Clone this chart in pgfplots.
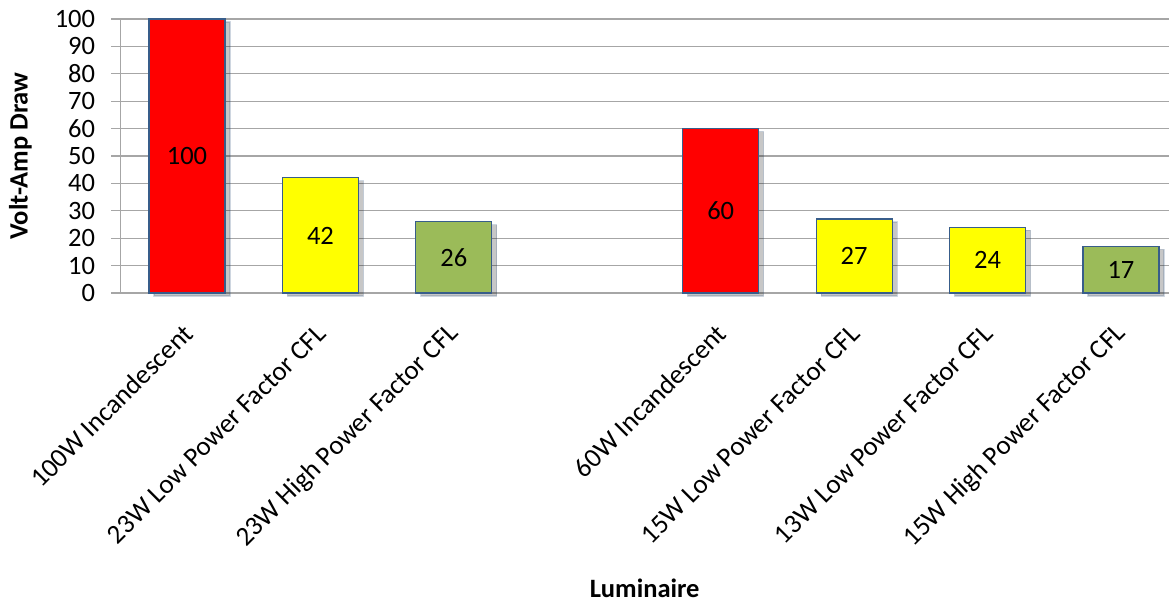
\documentclass[border=0pt]{standalone}
\usepackage{fontspec}
\setmainfont{Carlito}
\usepackage{pgfplots}
\pgfplotsset{compat=1.18}
\usetikzlibrary{shadows}
\definecolor{barred}{HTML}{FF0000}
\definecolor{baryel}{HTML}{FFFF00}
\definecolor{bargrn}{HTML}{9BBB59}
\definecolor{barline}{HTML}{385D8A}
\definecolor{gridc}{HTML}{A6A6A6}
\newcommand{\bigf}{\fontsize{26.5}{31}\selectfont}
\newcommand{\xf}{\fontsize{27}{31}\selectfont}
\begin{document}
\begin{tikzpicture}[font=\bigf]
\useasboundingbox (0,0) rectangle (1169pt,602pt);
\begin{axis}[
  at={(120.3pt,309pt)}, anchor=south west,
  scale only axis, width=1048.7pt, height=274pt,
  xmin=-0.5, xmax=7.36, ymin=0, ymax=100,
  ybar, bar width=76pt, bar shift=0pt,
  axis lines*=left,
  axis line style={draw=gridc, line width=1.3pt},
  ymajorgrids, grid style={draw=gridc, line width=1.3pt},
  ytick={0,10,...,100},
  tick align=outside, major tick length=9pt,
  ytick style={draw=gridc, line width=1.3pt},
  xtick style={draw=none},
  xtick={0,1,2,4,5,6,7},
  xticklabels={100W Incandescent, 23W Low Power Factor CFL, 23W High Power Factor CFL, 60W Incandescent, 15W Low Power Factor CFL, 13W Low Power Factor CFL, 15W High Power Factor CFL},
  /pgf/number format/assume math mode=true,
  tick label style={font=\bigf},
  yticklabel style={anchor=east, inner sep=0pt, xshift=-16pt},
  xticklabel style={font=\xf, yshift=-27pt, xshift=1pt, rotate=45, anchor=east, inner sep=0pt},
  ylabel={Volt-Amp Draw}, xlabel={Luminaire},
  every axis y label/.style={at={(axis description cs:0,0.5)}, xshift=-100pt, rotate=90, anchor=center, font=\bfseries\bigf},
  every axis x label/.style={at={(axis description cs:0.5,0)}, anchor=center, yshift=-295pt, font=\bfseries\bigf},
  clip=false,
]
\addplot[fill=barred, draw=barline, line width=1.1pt, drop shadow={shadow xshift=5pt, shadow yshift=-3pt, opacity=0.22, fill=black}] coordinates {(0,100) (4,60)};
\addplot[fill=baryel, draw=barline, line width=1.1pt, drop shadow={shadow xshift=5pt, shadow yshift=-3pt, opacity=0.22, fill=black}] coordinates {(1,42) (5,27) (6,24)};
\addplot[fill=bargrn, draw=barline, line width=1.1pt, drop shadow={shadow xshift=5pt, shadow yshift=-3pt, opacity=0.22, fill=black}] coordinates {(2,26) (7,17)};
\addplot[draw=none, fill=none, nodes near coords, point meta=explicit symbolic,
  every node near coord/.append style={anchor=center, font=\bigf, inner sep=0pt}]
  coordinates {(0,50)[100] (1,21)[42] (2,13)[26] (4,30)[60] (5,13.5)[27] (6,12)[24] (7,8.5)[17]};
\end{axis}
\end{tikzpicture}
\end{document}
